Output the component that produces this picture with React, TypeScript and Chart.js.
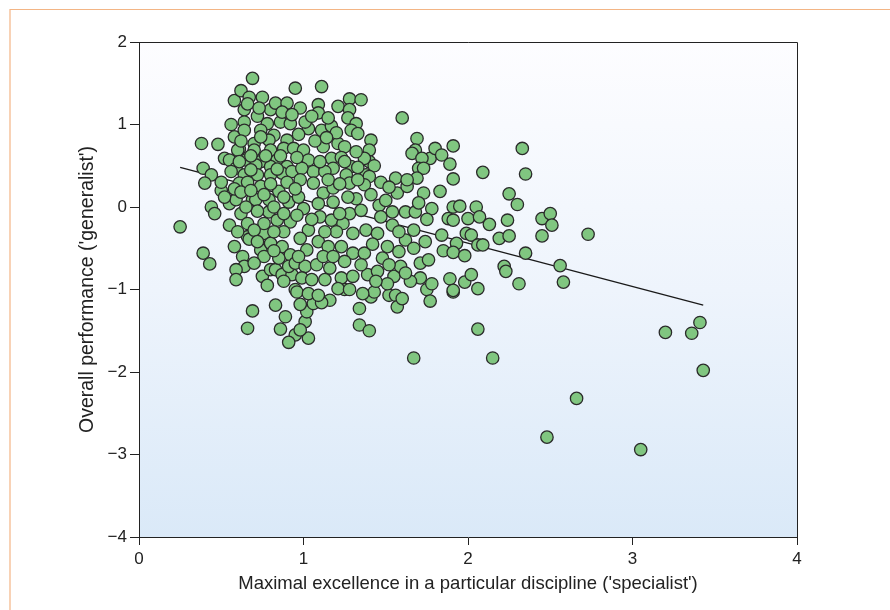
import React, { useEffect, useRef } from "react";
import { Chart, registerables } from "chart.js";

Chart.register(...registerables);

// ---- text & ticks ----
const xTitle = "Maximal excellence in a particular discipline ('specialist')";
const yTitle = "Overall performance ('generalist')";
const xTicks = [0, 1, 2, 3, 4];
const yTicks = [2, 1, 0, -1, -2, -3, -4];

// ---- regression line end points ----
const fitLine: [number, number][] = [
  [0.25, 0.48],
  [3.43, -1.19],
];

// ---- athletes: [specialist, generalist] ----
const upperLeft: [number, number][] = [
  [0.69, 1.56], [0.38, 0.77], [0.48, 0.76], [0.39, 0.47], [0.44, 0.39], [0.58, 1.29], [0.62, 1.41],
  [0.67, 1.33], [0.75, 1.33], [0.56, 1.0], [0.58, 0.85], [0.61, 0.7], [0.64, 1.18], [0.72, 1.1],
  [0.8, 1.18], [0.83, 1.26], [0.9, 1.26], [0.95, 1.44], [0.64, 1.03], [0.78, 1.01], [0.86, 1.03],
  [0.92, 1.01], [0.64, 0.93], [0.74, 0.93], [0.82, 0.87], [0.9, 0.81], [0.79, 0.81], [0.7, 0.77],
  [0.74, 0.85], [0.6, 0.69], [0.7, 0.69], [0.8, 0.69], [0.88, 0.71], [0.94, 0.71], [0.52, 0.59],
  [0.55, 0.57], [0.65, 0.57], [0.74, 0.55], [0.84, 0.57], [0.59, 0.47], [0.71, 0.51], [0.8, 0.49],
  [0.9, 0.49], [0.64, 0.39], [0.72, 0.39], [0.8, 0.39], [0.87, 0.41], [0.93, 0.43], [0.56, 0.43],
];

const lowerLeft: [number, number][] = [
  [0.25, -0.24], [0.39, -0.56], [0.43, -0.69], [0.44, 0.0], [0.46, -0.08], [0.55, 0.04], [0.59, 0.09],
  [0.62, -0.08], [0.69, 0.09], [0.74, 0.25], [0.61, 0.29], [0.4, 0.29], [0.55, -0.22], [0.66, -0.2],
  [0.58, -0.48], [0.63, -0.6], [0.64, -0.72], [0.59, -0.76], [0.59, -0.88], [0.75, -0.84], [0.66, -0.36],
  [0.74, -0.52], [0.76, -0.6], [0.8, -0.76], [0.83, -0.76], [0.87, -0.82], [0.93, -0.82], [0.71, 0.09],
  [0.79, -0.06], [0.84, -0.16], [0.92, -0.18], [0.67, -0.39], [0.76, -0.32], [0.8, -0.44], [0.87, -0.48],
  [0.92, -0.58], [0.85, -0.62], [0.91, -0.72], [0.95, -0.68], [0.79, 0.09], [0.85, 0.19], [0.91, 0.06],
  [0.76, -0.2], [0.95, -1.0],
];

const lowerTail: [number, number][] = [
  [0.69, -1.26], [0.66, -1.47], [0.83, -1.19], [0.89, -1.33], [0.86, -1.48], [0.95, -1.55], [0.91, -1.64],
  [1.03, -1.59], [1.01, -1.39], [0.98, -1.49], [1.02, -1.27], [0.98, -1.18], [1.06, -1.17], [0.96, -1.03],
  [1.03, -1.05], [1.16, -1.13], [1.11, -1.16], [1.25, -1.0], [1.41, -1.09], [1.34, -1.23], [1.34, -1.43],
  [1.4, -1.5], [1.52, -1.07], [1.56, -1.07], [1.57, -1.21], [1.6, -1.11], [1.75, -1.0], [1.77, -1.14],
  [1.91, -1.03], [1.67, -1.83],
];

const upperMid: [number, number][] = [
  [1.11, 1.46], [1.28, 1.31], [1.35, 1.3], [1.21, 1.22], [1.09, 1.24], [1.28, 1.18], [1.6, 1.08],
  [1.27, 1.08], [1.32, 1.01], [1.29, 0.93], [1.33, 0.89], [1.41, 0.81], [1.69, 0.83], [1.68, 0.69],
  [1.66, 0.65], [1.77, 0.59], [1.8, 0.71], [1.72, 0.59], [1.7, 0.47], [1.73, 0.47], [1.56, 0.35],
  [1.69, 0.35], [1.4, 0.69], [1.4, 0.55], [1.37, 0.59], [1.43, 0.5], [1.32, 0.67], [1.29, 0.49],
  [1.26, 0.39], [1.38, 0.39], [1.4, 0.37], [1.21, 0.77], [1.25, 0.73], [1.17, 0.59], [1.18, 0.47],
  [1.12, 0.73], [1.11, 0.93], [1.17, 0.98], [1.03, 0.95], [1.09, 1.14], [1.01, 1.03], [1.0, 0.69],
  [1.03, 0.57], [1.06, 0.43], [1.13, 0.43], [0.99, 0.47],
];

const centre: [number, number][] = [
  [1.06, 0.29], [1.12, 0.17], [1.18, 0.23], [1.28, 0.29], [1.37, 0.27], [1.41, 0.15], [1.57, 0.17],
  [1.63, 0.25], [1.73, 0.17], [1.78, -0.02], [1.0, -0.02], [1.09, 0.04], [1.18, 0.06], [1.28, -0.08],
  [1.35, -0.04], [1.46, 0.02], [1.54, -0.06], [1.62, -0.06], [1.68, -0.06], [1.03, -0.28], [1.1, -0.12],
  [1.17, -0.16], [1.24, -0.2], [1.3, -0.32], [1.38, -0.28], [1.45, -0.32], [1.54, -0.22], [1.67, -0.28],
  [1.74, -0.42], [1.02, -0.52], [1.09, -0.42], [1.15, -0.48], [1.23, -0.48], [1.3, -0.56], [1.37, -0.56],
  [1.51, -0.48], [1.58, -0.54], [1.71, -0.68], [1.76, -0.64], [1.01, -0.72], [1.08, -0.7], [1.16, -0.74],
  [1.23, -0.86], [1.3, -0.84], [1.39, -0.82], [1.55, -0.84], [1.51, -0.93], [1.59, -0.72], [1.71, -0.86],
  [1.78, -0.93], [1.13, -0.88], [1.21, -0.99], [1.43, -1.03], [1.09, -1.07], [1.28, -1.0], [1.36, -1.05],
];

const seams: [number, number][] = [
  [0.98, 1.2], [0.97, 0.88], [0.96, 0.6], [0.98, 0.33], [0.97, 0.12], [0.96, -0.1], [0.98, -0.38],
  [0.97, -0.6], [0.99, -0.86], [0.5, 0.2], [0.58, 0.22], [0.66, 0.3], [0.8, 0.28], [0.9, 0.3],
  [1.15, 0.33], [1.22, 0.28], [1.33, 0.33], [1.47, 0.3], [1.52, 0.24], [1.63, 0.33], [0.95, 0.22],
  [0.88, 0.12], [0.82, 0.0], [0.72, -0.05], [0.7, -0.28], [0.88, -0.3], [0.82, -0.3], [1.47, -0.12],
  [1.48, -0.62], [1.45, -0.78], [1.62, -0.4], [1.65, -0.9], [1.2, -0.3], [1.12, -0.6], [1.25, -0.66],
];

const coreExtra: [number, number][] = [
  [0.62, 0.8], [0.68, 0.62], [0.77, 0.62], [0.86, 0.62], [0.68, 0.45], [0.84, 0.46], [0.61, 0.55],
  [0.66, 1.25], [0.73, 1.2], [0.87, 1.15], [0.93, 1.12], [1.05, 1.1], [1.15, 1.08], [1.2, 0.9],
  [1.23, 0.6], [1.07, 0.8], [1.14, 0.84], [1.25, 0.55], [1.33, 0.48], [1.1, 0.55], [0.62, 0.18],
  [0.68, 0.2], [0.76, 0.15], [0.65, 0.0], [0.88, -0.08], [0.6, -0.3], [0.72, -0.42], [0.82, -0.53],
  [0.7, -0.68], [0.88, -0.9], [0.78, -0.95], [1.05, -0.15], [1.13, -0.3], [1.22, -0.08], [1.32, 0.1],
  [1.42, -0.45], [1.35, -0.7], [1.18, -0.6], [1.05, -0.88], [1.27, 0.12], [1.5, 0.08], [1.58, -0.3],
  [1.62, -0.8], [1.67, -0.5], [1.52, -0.7], [1.44, -0.9], [1.7, 0.05], [1.75, -0.15], [0.52, 0.12],
  [0.5, 0.3],
];

const rightSpread: [number, number][] = [
  [1.91, 0.74], [1.84, 0.63], [1.89, 0.52], [1.91, 0.34], [2.33, 0.71], [2.09, 0.42], [2.35, 0.4],
  [1.83, 0.19], [2.25, 0.16], [2.3, 0.03], [1.91, 0.0], [1.95, 0.01], [2.05, 0.0], [1.88, -0.14],
  [1.91, -0.16], [2.0, -0.14], [2.07, -0.12], [2.13, -0.21], [2.24, -0.16], [2.45, -0.14], [2.5, -0.08],
  [2.51, -0.22], [2.73, -0.33], [2.45, -0.35], [2.19, -0.38], [2.25, -0.35], [1.99, -0.32], [2.02, -0.34],
  [1.84, -0.34], [1.93, -0.44], [1.85, -0.53], [1.91, -0.55], [1.98, -0.59], [2.06, -0.46], [2.09, -0.46],
  [2.35, -0.56], [2.22, -0.72], [2.23, -0.78], [2.31, -0.93], [2.56, -0.71], [2.58, -0.91], [1.89, -0.87],
  [1.91, -1.01], [1.98, -0.91], [2.02, -0.82], [2.06, -0.99], [2.06, -1.48], [2.15, -1.83],
];

const farRight: [number, number][] = [
  [3.2, -1.52], [3.36, -1.53], [3.41, -1.4], [3.43, -1.98], [2.66, -2.32], [3.05, -2.94], [2.48, -2.79],
];

const groups = [upperLeft, lowerLeft, lowerTail, upperMid, centre, seams, coreExtra, rightSpread, farRight];

const FONT = "'Liberation Sans', Arial, Helvetica, sans-serif";

const framePlugin = {
  id: "frameDeco",
  beforeDraw(chart: any) {
    const { ctx, chartArea } = chart;
    const { left, top, right, bottom } = chartArea;
    ctx.save();
    // orange page frame
    ctx.strokeStyle = "#f3b585";
    ctx.lineWidth = 1.2;
    ctx.beginPath();
    ctx.moveTo(10, 610);
    ctx.lineTo(10, 9.5);
    ctx.lineTo(890, 9.5);
    ctx.stroke();
    // plot background gradient
    const g = ctx.createLinearGradient(0, top, 0, bottom);
    g.addColorStop(0, "#fdfdff");
    g.addColorStop(0.5, "#eef4fc");
    g.addColorStop(1, "#dae9f8");
    ctx.fillStyle = g;
    ctx.fillRect(left, top, right - left, bottom - top);
    ctx.restore();
  },
  beforeDatasetsDraw(chart: any) {
    const { ctx, chartArea } = chart;
    const { left, top, right, bottom } = chartArea;
    ctx.save();
    ctx.strokeStyle = "#222";
    ctx.lineWidth = 1;
    ctx.beginPath();
    ctx.moveTo(left, top + 0.5);
    ctx.lineTo(right + 0.5, top + 0.5);
    ctx.lineTo(right + 0.5, bottom);
    ctx.stroke();
    ctx.restore();
  },
};

export default function App() {
  const ref = useRef<HTMLCanvasElement | null>(null);

  useEffect(() => {
    if (!ref.current) return;
    const points = groups.flat().map(([x, y]) => ({ x, y }));
    const chart = new Chart(ref.current, {
      type: "scatter",
      data: {
        datasets: [
          {
            type: "scatter",
            data: points,
            backgroundColor: "#80c680",
            borderColor: "#2a2a2a",
            borderWidth: 1.3,
            pointRadius: 6.2,
            pointHoverRadius: 6.2,
          },
          {
            type: "line",
            data: fitLine.map(([x, y]) => ({ x, y })),
            borderColor: "#1a1a1a",
            borderWidth: 1.3,
            pointRadius: 0,
            fill: false,
            tension: 0,
          },
        ],
      },
      options: {
        responsive: false,
        animation: false,
        events: [],
        layout: { padding: { left: 0, top: 42, right: 93, bottom: 0 } },
        plugins: { legend: { display: false }, tooltip: { enabled: false } },
        scales: {
          x: {
            type: "linear",
            min: 0,
            max: 4,
            afterBuildTicks: (s: any) => {
              s.ticks = xTicks.map((v) => ({ value: v }));
            },
            afterFit: (s: any) => {
              s.height = 73;
            },
            grid: { drawOnChartArea: false, drawTicks: true, tickLength: 8, color: "#222", tickWidth: 1 },
            border: { display: true, color: "#222", width: 1 },
            ticks: { color: "#222", padding: 4, font: { family: FONT, size: 17 }, callback: (v: any) => String(v) },
            title: { display: true, text: xTitle, color: "#222", font: { family: FONT, size: 18.5 }, padding: { top: 0, bottom: 15 } },
          },
          y: {
            type: "linear",
            min: -4,
            max: 2,
            afterBuildTicks: (s: any) => {
              s.ticks = yTicks.map((v) => ({ value: v }));
            },
            afterFit: (s: any) => {
              s.width = 139;
            },
            grid: { drawOnChartArea: false, drawTicks: true, tickLength: 9, color: "#222", tickWidth: 1 },
            border: { display: true, color: "#222", width: 1 },
            ticks: {
              color: "#222",
              padding: 3,
              font: { family: FONT, size: 17 },
              callback: (v: any) => (Number(v) < 0 ? "\u2212" + Math.abs(Number(v)) : String(v)),
            },
            title: { display: true, text: yTitle, color: "#222", font: { family: FONT, size: 19.5 }, padding: { top: 76, bottom: 0 } },
          },
        },
      },
      plugins: [framePlugin],
    });
    return () => chart.destroy();
  }, []);

  return (
    <div style={{ position: "fixed", left: 0, top: 0, width: 890, height: 610, background: "#fff" }}>
      <canvas ref={ref} width={890} height={610} style={{ width: 890, height: 610, display: "block" }} />
    </div>
  );
}
